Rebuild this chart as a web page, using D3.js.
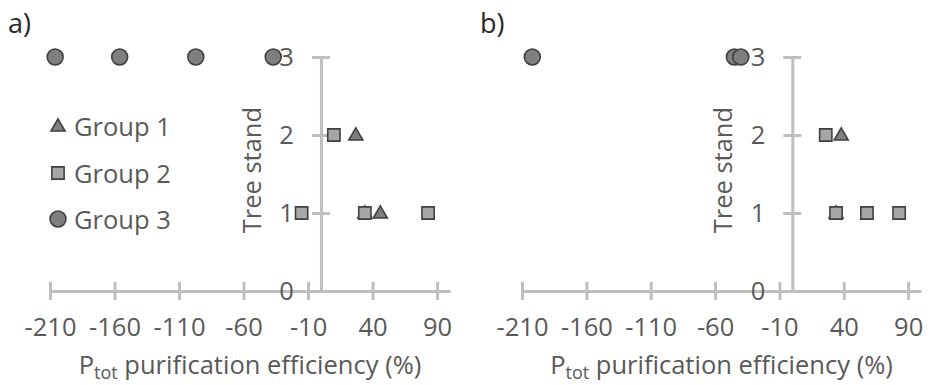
<!DOCTYPE html>
<html>
<head>
<meta charset="utf-8">
<script src="https://cdn.jsdelivr.net/npm/d3@7"></script>
<style>
  body { margin: 0; background: #fff; }
  svg { display: block; font-family: "Open Sans", sans-serif; }
  .axis path, .axis line { stroke: #bfbfbf; stroke-width: 3; }
  .axis text { fill: #595959; font-size: 25.5px; font-family: "Open Sans", sans-serif; }
  .lbl { fill: #595959; font-size: 25.5px; }
</style>
</head>
<body>
<div id="chart"></div>
<script>
// values
const xTicks = [-210, -160, -110, -60, -10, 40, 90];
const yTicks = [0, 1, 2, 3];
const groupNames = ["Group 1", "Group 2", "Group 3"];

// panel a)
const aGroup1X = [27, 34, 46];
const aGroup1Y = [2, 1, 1];
const aGroup2X = [10, -15, 34, 83];
const aGroup2Y = [2, 1, 1, 1];
const aGroup3X = [-206, -156, -97, -37];
const aGroup3Y = [3, 3, 3, 3];

// panel b)
const bGroup1X = [38, 34];
const bGroup1Y = [2, 1];
const bGroup2X = [26, 34, 58, 83];
const bGroup2Y = [2, 1, 1, 1];
const bGroup3X = [-202, -45, -40];
const bGroup3Y = [3, 3, 3];

const width = 930, height = 385;
const svg = d3.select("#chart").append("svg")
  .attr("width", width)
  .attr("height", height);

const zip = (xs, ys) => xs.map((x, i) => ({x: x, y: ys[i]}));

const triPath = d3.symbol().type(d3.symbolTriangle).size(85)();
const sqPath = d3.symbol().type(d3.symbolSquare).size(150)();
const circPath = d3.symbol().type(d3.symbolCircle).size(200)();

const markerStyle = [
  {path: triPath, fill: "#7f7f7f", dy: 1},
  {path: sqPath, fill: "#a6a6a6", dy: 0},
  {path: circPath, fill: "#7f7f7f", dy: 0}
];

// plain hyphen minus like the original
const fmt = d => String(d);

function drawPanel(left, right, label, series, legend) {
  const x = d3.scaleLinear().domain([-210, 100]).range([left, right]);
  const y = d3.scaleLinear().domain([0, 3]).range([291, 57]);

  // x axis with crossing ticks
  const gx = svg.append("g")
    .attr("class", "axis")
    .attr("transform", `translate(0,${y(0)})`)
    .call(d3.axisBottom(x).tickValues(xTicks).tickFormat(fmt).tickSize(9).tickSizeOuter(0));
  gx.selectAll(".tick line").attr("y1", -9);
  gx.selectAll(".tick text").attr("y", 27);

  // y axis
  const gy = svg.append("g")
    .attr("class", "axis")
    .attr("transform", `translate(${x(0)},0)`)
    .call(d3.axisLeft(y).tickValues(yTicks).tickFormat(fmt).tickSize(9).tickSizeOuter(0));
  gy.selectAll(".tick line").attr("x1", 9);
  gy.selectAll(".tick text").attr("x", -27);
  gy.raise();
  gx.select(".domain").raise();

  // axis titles
  svg.append("text")
    .attr("class", "lbl")
    .attr("transform", `translate(${x(0) - 70},${y(1.55)}) rotate(-90)`)
    .attr("text-anchor", "middle")
    .attr("dominant-baseline", "central")
    .text("Tree stand");

  const t = svg.append("text")
    .attr("class", "lbl")
    .attr("x", (left + right) / 2)
    .attr("y", 374)
    .attr("text-anchor", "middle");
  t.append("tspan").text("P");
  t.append("tspan").attr("font-size", "18px").attr("dy", 5).text("tot");
  t.append("tspan").attr("dy", -5).text(" purification efficiency (%)");

  svg.append("text")
    .attr("x", left - 42)
    .attr("y", 33)
    .attr("fill", "#262626")
    .attr("font-size", "27px")
    .text(label);

  // markers, series order: group 1 first (bottom)
  series.forEach((pts, i) => {
    svg.append("g").selectAll("path")
      .data(pts)
      .enter().append("path")
      .attr("d", markerStyle[i].path)
      .attr("transform", d => `translate(${x(d.x)},${y(d.y) + markerStyle[i].dy})`)
      .attr("fill", markerStyle[i].fill)
      .attr("stroke", "#404040")
      .attr("stroke-width", 1.6);
  });

  if (legend) {
    const legendY = [126, 173, 219];
    groupNames.forEach((name, i) => {
      svg.append("path")
        .attr("d", markerStyle[i].path)
        .attr("transform", `translate(58,${legendY[i] + markerStyle[i].dy})`)
        .attr("fill", markerStyle[i].fill)
        .attr("stroke", "#404040")
        .attr("stroke-width", 1.6);
      svg.append("text")
        .attr("class", "lbl")
        .attr("x", 74)
        .attr("y", legendY[i])
        .attr("dominant-baseline", "central")
        .text(name);
    });
  }
}

drawPanel(50, 450, "a)", [
  zip(aGroup1X, aGroup1Y),
  zip(aGroup2X, aGroup2Y),
  zip(aGroup3X, aGroup3Y)
], true);

drawPanel(522, 921, "b)", [
  zip(bGroup1X, bGroup1Y),
  zip(bGroup2X, bGroup2Y),
  zip(bGroup3X, bGroup3Y)
], false);
</script>
</body>
</html>
